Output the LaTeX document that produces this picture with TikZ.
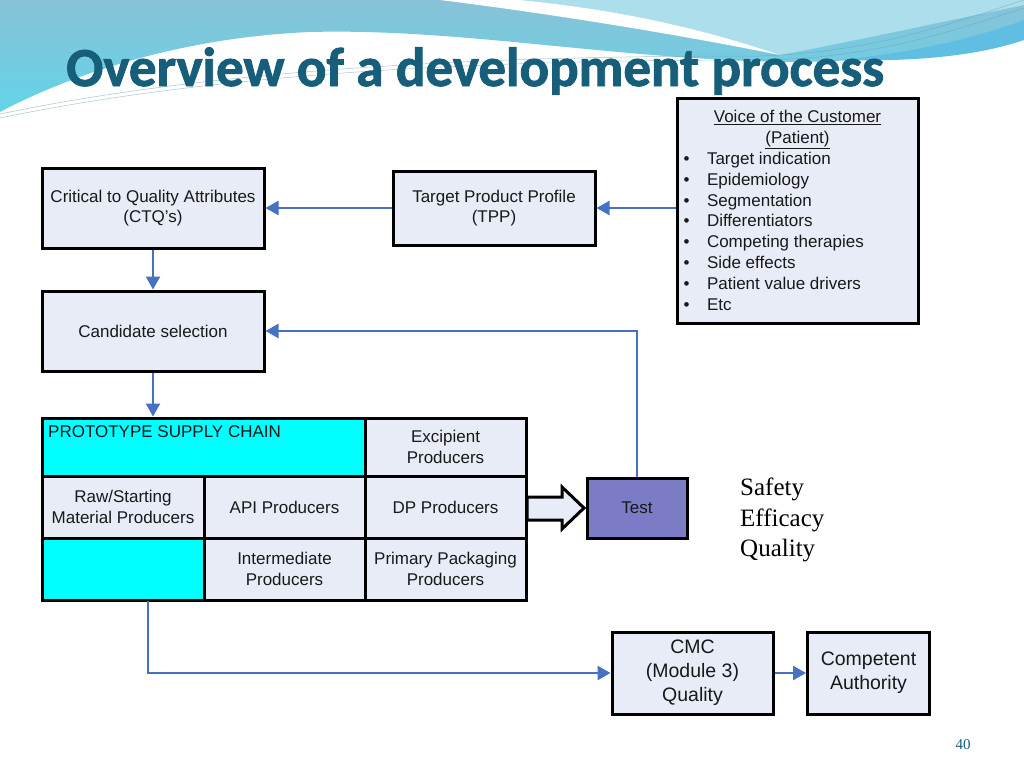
\documentclass[tikz,border=0pt]{standalone}
\usepackage{fontspec}
\setmainfont{Liberation Sans}
\newfontface\titlefont{Carlito Bold}[FakeBold=1.6]
\newfontfamily\serifont{Liberation Serif}
\usetikzlibrary{arrows.meta}
\definecolor{boxfill}{RGB}{232,236,246}
\definecolor{arrowblue}{RGB}{70,114,196}
\definecolor{testfill}{RGB}{124,124,198}
\definecolor{titleteal}{RGB}{22,94,122}
\definecolor{txt}{RGB}{25,25,25}
\definecolor{bandtop}{RGB}{136,194,216}
\definecolor{bandbot}{RGB}{98,212,232}
\definecolor{bandlight}{RGB}{172,222,236}
\definecolor{banddeep}{RGB}{96,190,226}
\definecolor{protocyan}{RGB}{0,255,255}
\begin{document}
\begin{tikzpicture}[x=1pt,y=-1pt,
  box/.style={draw=black, line width=3pt, fill=boxfill, inner sep=0pt, align=center,
    text=txt, font=\fontsize{17}{20.5}\selectfont},
  cyanbox/.style={box, fill=protocyan},
  flow/.style={draw=arrowblue, line width=2.4pt, -{Triangle[length=13pt,width=14pt]}},
  thinline/.style={line width=0.5pt, draw=titleteal!60!white, opacity=0.6}]
\useasboundingbox (0,0) rectangle (1024,768);
\fill[white] (0,0) rectangle (1024,768);
% top decoration
\shade[top color=bandtop, bottom color=bandbot]
  (0,0) -- (1024,0) -- (1024,28) .. controls (960,50) and (880,62) .. (790,62)
  .. controls (620,60) and (460,28) .. (310,32)
  .. controls (170,38) and (60,80) .. (0,112) -- cycle;
\fill[bandlight] (520,0) .. controls (620,10) and (700,28) .. (780,55)
  .. controls (860,40) and (950,20) .. (1024,5) -- (1024,0) -- cycle;
\fill[white] (440,0) -- (520,0) .. controls (620,10) and (700,28) .. (780,55)
  .. controls (680,35) and (560,15) .. (440,0) -- cycle;
\fill[banddeep] (840,60) .. controls (920,52) and (985,35) .. (1024,20) -- (1024,40)
  .. controls (980,55) and (920,62) .. (840,60) -- cycle;
\draw[thinline] (0,114) .. controls (250,62) and (550,56) .. (760,56) .. controls (880,52) and (960,20) .. (1024,0);
\draw[thinline] (0,118) .. controls (250,66) and (550,60) .. (770,60) .. controls (890,56) and (965,26) .. (1024,8);
% title
\node[anchor=base west, inner sep=0pt, text=titleteal,
  font=\titlefont\fontsize{55}{60}\selectfont] (title) at (66,86)
  {Overview of a development process};
% boxes
\node[box, minimum width=222pt, minimum height=80pt] (ctq) at (153,208)
  {Critical to Quality Attributes\\(CTQ’s)};
\node[box, minimum width=202pt, minimum height=74pt] (tpp) at (494,208)
  {Target Product Profile\\(TPP)};
\node[box, minimum width=241pt, minimum height=225pt] (voc) at (797.5,210.5)
  {\begin{minipage}{236pt}\fontsize{17}{20.8}\selectfont
   \centering\underline{Voice of the Customer}\\\underline{(Patient)}\par
   \raggedright
   \hspace*{4pt}\makebox[23.5pt][l]{\textbullet}Target indication\\
   \hspace*{4pt}\makebox[23.5pt][l]{\textbullet}Epidemiology\\
   \hspace*{4pt}\makebox[23.5pt][l]{\textbullet}Segmentation\\
   \hspace*{4pt}\makebox[23.5pt][l]{\textbullet}Differentiators\\
   \hspace*{4pt}\makebox[23.5pt][l]{\textbullet}Competing therapies\\
   \hspace*{4pt}\makebox[23.5pt][l]{\textbullet}Side effects\\
   \hspace*{4pt}\makebox[23.5pt][l]{\textbullet}Patient value drivers\\
   \hspace*{4pt}\makebox[23.5pt][l]{\textbullet}Etc
   \end{minipage}};
\node[box, minimum width=222pt, minimum height=80pt] (cand) at (153,331)
  {Candidate selection};
% supply chain grid
\node[cyanbox, minimum width=323pt, minimum height=58pt] (proto) at (203.5,447) {};
\node[anchor=north west, inner sep=0pt, text=txt, font=\fontsize{17}{20.5}\selectfont]
  (protot) at (48,425) {PROTOTYPE SUPPLY CHAIN};
\node[box, minimum width=161pt, minimum height=58pt] (excip) at (445.5,447)
  {Excipient\\Producers};
\node[box, minimum width=162pt, minimum height=62pt] (raw) at (123,507)
  {Raw/Starting\\Material Producers};
\node[box, minimum width=161pt, minimum height=62pt] (api) at (284.5,507)
  {API Producers};
\node[box, minimum width=161pt, minimum height=62pt] (dp) at (445.5,507)
  {DP Producers};
\node[cyanbox, minimum width=162pt, minimum height=62pt] (cyan2) at (123,569) {};
\node[box, minimum width=161pt, minimum height=62pt] (inter) at (284.5,569)
  {Intermediate\\Producers};
\node[box, minimum width=161pt, minimum height=62pt] (pack) at (445.5,569)
  {Primary Packaging\\Producers};
% block arrow
\filldraw[draw=black, fill=boxfill, line width=3pt, line join=miter]
  (527,497) -- (562,497) -- (562,487) -- (584,508) -- (562,529) -- (562,520) -- (527,520) -- cycle;
\node[box, fill=testfill, minimum width=100pt, minimum height=60pt] (test) at (637,508) {Test};
% safety text
\node[anchor=north west, align=left, inner sep=0pt, text=black,
  font=\serifont\fontsize{25}{30.5}\selectfont] (seq) at (740,478)
  {Safety\\Efficacy\\Quality};
% bottom boxes
\node[box, minimum width=161pt, minimum height=82pt, font=\fontsize{19.5}{24}\selectfont]
  (cmc) at (692.5,673) {CMC\\(Module 3)\\Quality};
\node[box, minimum width=122pt, minimum height=82pt, font=\fontsize{19.5}{24}\selectfont]
  (auth) at (868.5,673) {Competent\\Authority};
% connectors
\draw[flow] (tpp.west) -- (tpp.west -| ctq.east);
\draw[flow] (voc.west |- tpp.east) -- (tpp.east);
\draw[flow] (ctq.south) -- (cand.north);
\draw[flow] (cand.south) -- (cand.south |- proto.north);
\draw[flow] (test.north) |- (cand.east);
\coordinate (gb) at (148,601);
\draw[flow] (gb) |- (cmc.west);
\draw[flow] (cmc.east) -- (auth.west);
% page number
\node[font=\serifont\fontsize{15}{15}\selectfont, text=titleteal] (pg) at (963,745) {40};
\end{tikzpicture}
\end{document}
